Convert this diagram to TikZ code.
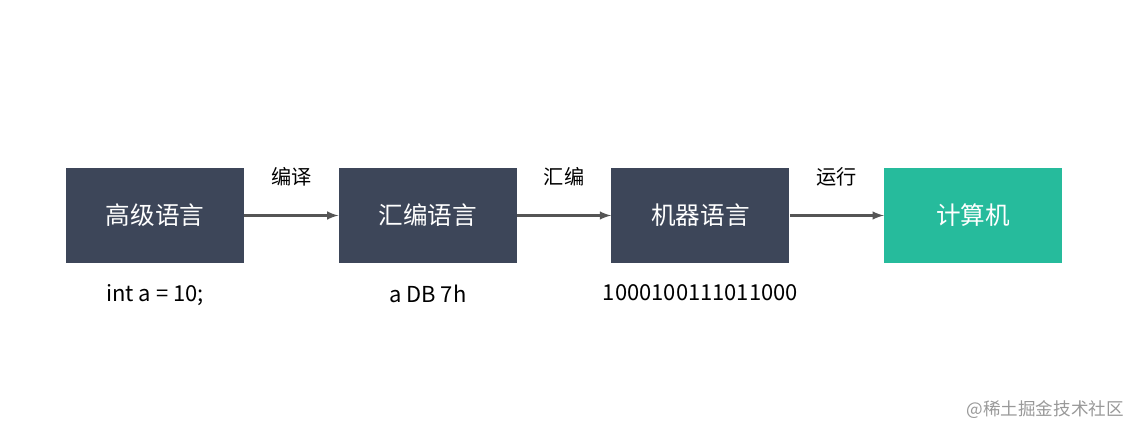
\documentclass[tikz,border=0pt]{standalone}
\usepackage{fontspec}
\setmainfont{Noto Sans CJK SC}
\usetikzlibrary{positioning}
\definecolor{boxdark}{HTML}{3D4659}
\definecolor{boxgreen}{HTML}{26BB9C}
\definecolor{arrowgray}{HTML}{555555}
\tikzset{
  stage/.style={fill=boxdark, text=white, minimum width=3.56cm, minimum height=1.9cm,
    inner sep=0pt, font=\fontsize{14}{16}\selectfont},
  flow/.style={draw=arrowgray, line width=1.2pt, -latex},
  steplabel/.style={font=\fontsize{11.5}{13}\selectfont, text=black},
  codelabel/.style={font=\fontsize{12.5}{14}\selectfont, text=black}
}
\begin{document}
\begin{tikzpicture}
    \useasboundingbox (0,0) rectangle (22.84,-8.7);

    \node[stage] (high) at (3.1,-4.31) {高级语言};
    \node[stage, right=1.88cm of high] (asm) {汇编语言};
    \node[stage, right=1.88cm of asm] (mach) {机器语言};
    \node[stage, fill=boxgreen, right=1.88cm of mach] (comp) {计算机};

    \draw[flow] (high) -- node[steplabel, above=0.45cm] {编译} (asm);
    \draw[flow] (asm) -- node[steplabel, above=0.45cm] {汇编} (mach);
    \draw[flow] (mach) -- node[steplabel, above=0.45cm] {运行} (comp);

    \node[codelabel, below=0.3cm of high] (highcode) {int a = 10;};
    \node[codelabel, below=0.3cm of asm] (asmcode) {a DB 7h};
    \node[codelabel, below=0.3cm of mach] (machcode) {1000100111011000};

    \node[font=\fontsize{10}{12}\selectfont, text=gray!80, anchor=east] (mark) at (22.6,-8.2) {@稀土掘金技术社区};
\end{tikzpicture}
\end{document}
